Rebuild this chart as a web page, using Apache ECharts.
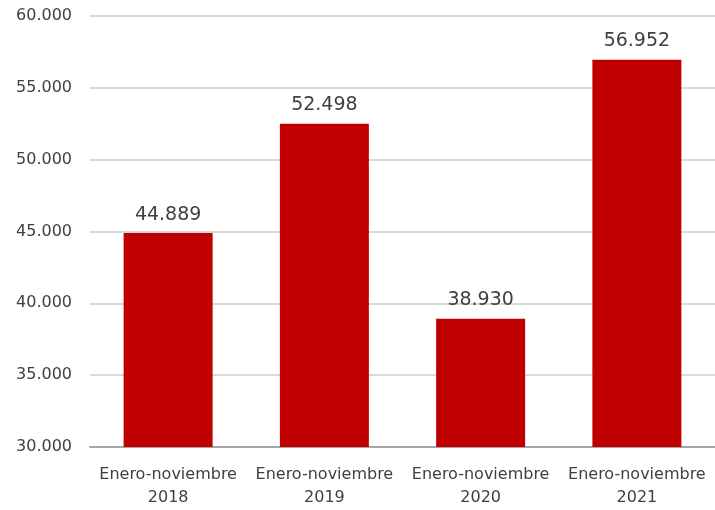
<!DOCTYPE html>
<html>
<head>
<meta charset="utf-8">
<script src="https://cdn.jsdelivr.net/npm/echarts@6/dist/echarts.min.js"></script>
<style>
  html, body { margin: 0; padding: 0; background: #fff; overflow: hidden; }
  #chart { width: 715px; height: 510px; }
</style>
</head>
<body>
<div id="chart"></div>
<script>
var categories = ['Enero-noviembre\n2018', 'Enero-noviembre\n2019', 'Enero-noviembre\n2020', 'Enero-noviembre\n2021']
var values = [44889, 52498, 38930, 56952]

function fmt (v) {
  return String(v).replace(/\B(?=(\d{3})+(?!\d))/g, '.')
}

var chart = echarts.init(document.getElementById('chart'))
chart.setOption({
  textStyle: { fontFamily: '"DejaVu Sans", sans-serif' },
  grid: { left: 90, right: -2, top: 16, bottom: 63, containLabel: false },
  xAxis: {
    type: 'category',
    data: categories,
    axisTick: { show: false },
    axisLine: { lineStyle: { color: '#a6a6a6', width: 2 } },
    axisLabel: { color: '#404040', fontSize: 16, lineHeight: 23, margin: 16, interval: 0 }
  },
  yAxis: {
    type: 'value',
    min: 30000,
    max: 60000,
    interval: 5000,
    axisLine: { show: false },
    axisTick: { show: false },
    splitLine: { lineStyle: { color: '#d9d9d9', width: 2 } },
    axisLabel: { color: '#404040', fontSize: 16, margin: 18, formatter: fmt }
  },
  series: [
    {
      type: 'bar',
      data: values,
      barWidth: 89,
      itemStyle: { color: '#c00000' },
      label: {
        show: true,
        position: 'top',
        distance: 9,
        color: '#404040',
        fontSize: 19,
        formatter: function (p) { return fmt(p.value) }
      }
    }
  ]
})
</script>
</body>
</html>
